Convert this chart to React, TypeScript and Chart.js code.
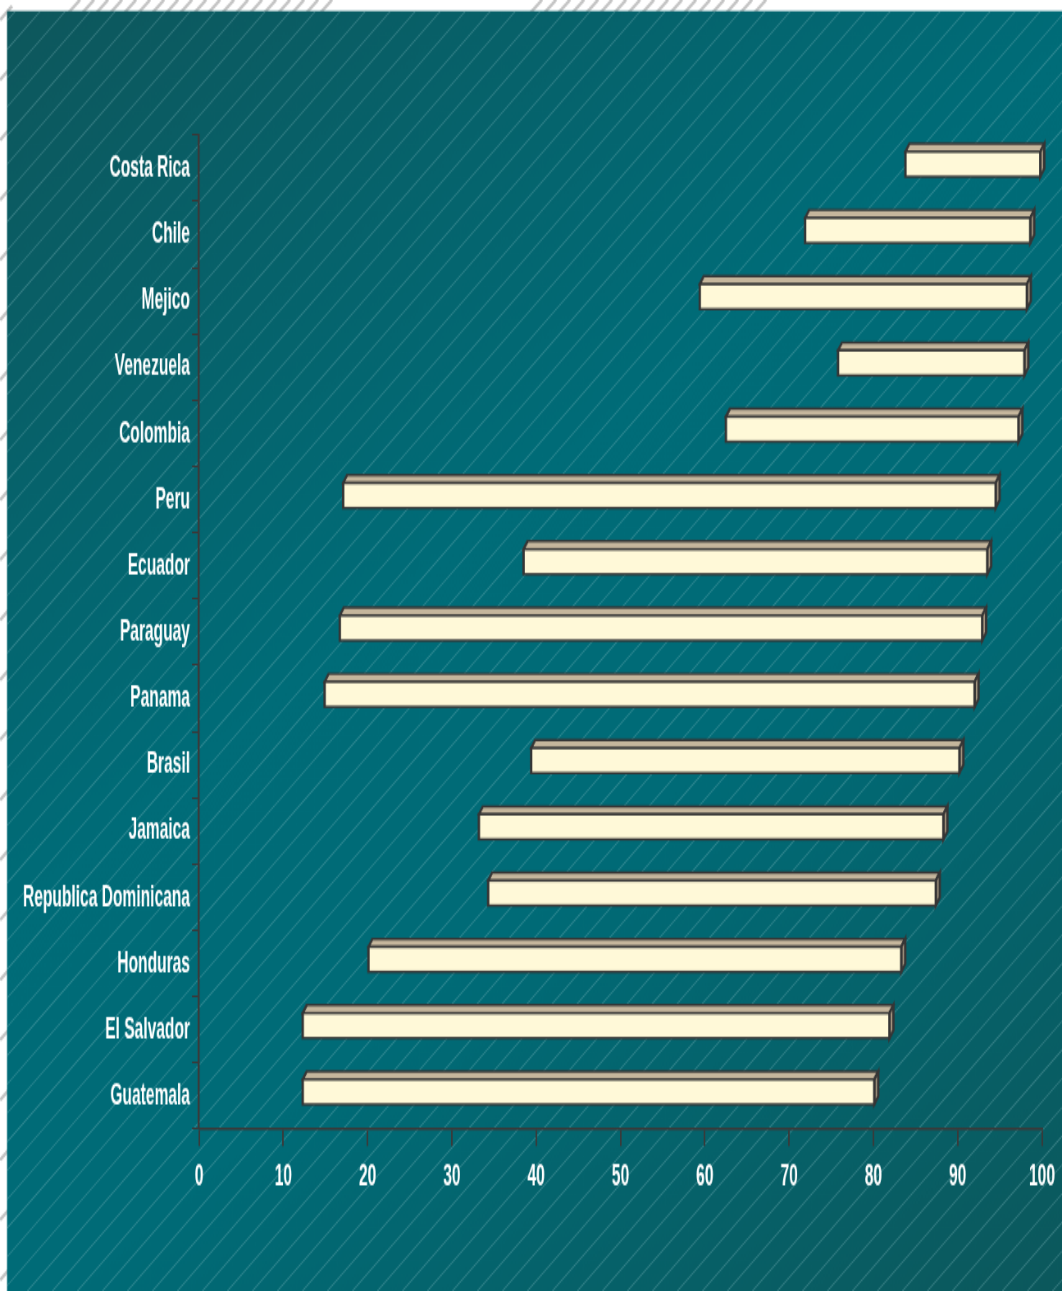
import React, { useEffect, useRef } from 'react';
import { Chart, registerables } from 'chart.js';

Chart.register(...registerables);

// ---- data ----
const categories = [
  'Costa Rica', 'Chile', 'Mejico', 'Venezuela', 'Colombia', 'Peru', 'Ecuador', 'Paraguay',
  'Panama', 'Brasil', 'Jamaica', 'Republica Dominicana', 'Honduras', 'El Salvador', 'Guatemala',
];
const startValues = [83.8, 71.9, 59.4, 75.8, 62.5, 17.1, 38.5, 16.7, 14.9, 39.4, 33.2, 34.3, 20.1, 12.3, 12.3];
const endValues = [99.8, 98.6, 98.2, 97.9, 97.2, 94.5, 93.5, 92.9, 92.0, 90.2, 88.3, 87.4, 83.3, 81.9, 80.1];
const xTickValues = [0, 10, 20, 30, 40, 50, 60, 70, 80, 90, 100];

// ---- geometry: display is 1062x1291, the canvas is drawn narrower/taller and stretched by CSS ----
const W = 1062;
const DH = 1291;
const WL = 1295;
const H = 782;
const KX = W / WL;
const KY = DH / H;

const FONT_FAMILY = '"Liberation Sans", Arial, sans-serif';

const backgroundPlugin = {
  id: 'bgPanel',
  beforeDraw(chart: any) {
    const ctx = chart.ctx as CanvasRenderingContext2D;
    ctx.save();
    ctx.scale(1 / KX, 1 / KY);
    ctx.fillStyle = '#ffffff';
    ctx.fillRect(0, 0, W, DH);
    // faint grey decoration in the outer margin
    ctx.strokeStyle = 'rgba(190,190,190,0.9)';
    ctx.lineWidth = 3;
    ctx.beginPath();
    for (let c = 80; c < 780; c += 14) {
      if (c > 340 && c < 540) continue;
      ctx.moveTo(c, 0); ctx.lineTo(c - 20, 22);
    }
    for (let y = 20; y < DH; y += 60) {
      ctx.moveTo(0, y); ctx.lineTo(12, y - 14);
    }
    ctx.stroke();

    const px = 7, py = 11;
    const g = ctx.createLinearGradient(px, py, W, DH);
    g.addColorStop(0, '#0e575c');
    g.addColorStop(0.42, '#006c78');
    g.addColorStop(0.62, '#006b77');
    g.addColorStop(1, '#0c585c');
    ctx.fillStyle = g;
    ctx.fillRect(px, py, W - px, DH - py);

    ctx.beginPath();
    ctx.rect(px, py, W - px, DH - py);
    ctx.clip();
    ctx.strokeStyle = 'rgba(150,200,205,0.38)';
    ctx.lineWidth = 0.9;
    const slope = 1.15;
    const run = DH / slope;
    ctx.beginPath();
    for (let c = 0; c < W + run + 30; c += 25) {
      ctx.moveTo(c, 0);
      ctx.lineTo(c - run, DH);
    }
    ctx.stroke();
    ctx.restore();
  },
};

const bars3dPlugin = {
  id: 'bars3d',
  afterDatasetsDraw(chart: any) {
    const ctx = chart.ctx as CanvasRenderingContext2D;
    const meta = chart.getDatasetMeta(0);
    ctx.save();
    ctx.scale(1 / KX, 1 / KY);
    ctx.lineJoin = 'miter';
    ctx.lineWidth = 2.4;
    ctx.strokeStyle = '#363636';
    const dx = 4;
    const dy = 8;
    const shift = -4;
    meta.data.forEach((el: any) => {
      const p = el.getProps(['x', 'y', 'base', 'height'], true);
      const left = Math.min(p.x, p.base) * KX;
      const right = Math.max(p.x, p.base) * KX;
      const hD = p.height * KY;
      const yc = p.y * KY + shift;
      const top = yc - hD / 2;
      const bottom = yc + hD / 2;
      // top face
      ctx.beginPath();
      ctx.moveTo(left, top);
      ctx.lineTo(left + dx, top - dy);
      ctx.lineTo(right + dx, top - dy);
      ctx.lineTo(right, top);
      ctx.closePath();
      ctx.fillStyle = '#c5b69c';
      ctx.fill();
      ctx.stroke();
      // side face
      ctx.beginPath();
      ctx.moveTo(right, top);
      ctx.lineTo(right + dx, top - dy);
      ctx.lineTo(right + dx, bottom - dy);
      ctx.lineTo(right, bottom);
      ctx.closePath();
      ctx.fillStyle = '#a69680';
      ctx.fill();
      ctx.stroke();
      // front face
      ctx.fillStyle = '#fff9d8';
      ctx.fillRect(left, top, right - left, hD);
      ctx.strokeRect(left, top, right - left, hD);
    });
    ctx.restore();
  },
};

export default function App() {
  const canvasRef = useRef<HTMLCanvasElement | null>(null);

  useEffect(() => {
    document.body.style.margin = '0';
    const canvas = canvasRef.current;
    if (!canvas) return;
    const chartTop = 135 / KY;
    const chartBottom = 1129 / KY;
    const chartLeft = 199 / KX;
    const chartRight = 1042 / KX;
    const chart = new Chart(canvas, {
      type: 'bar',
      data: {
        labels: categories,
        datasets: [
          {
            data: categories.map((_, i) => [startValues[i], endValues[i]]) as any,
            backgroundColor: 'rgba(0,0,0,0)',
            borderWidth: 0,
            barPercentage: 25 / 66.27,
            categoryPercentage: 1,
          },
        ],
      },
      options: {
        indexAxis: 'y',
        responsive: false,
        devicePixelRatio: 1,
        animation: false,
        events: [],
        layout: { padding: { top: chartTop, right: WL - chartRight, left: 0, bottom: 0 } },
        plugins: { legend: { display: false }, tooltip: { enabled: false }, title: { display: false } },
        scales: {
          x: {
            type: 'linear',
            position: 'bottom',
            min: 0,
            max: 100,
            afterBuildTicks: (s: any) => {
              s.ticks = xTickValues.map((v) => ({ value: v }));
            },
            afterFit: (s: any) => {
              s.height = H - chartBottom;
            },
            ticks: {
              color: '#ffffff',
              font: { family: FONT_FAMILY, weight: 'bold', size: 19 },
              padding: 7.6,
              maxRotation: 0,
              autoSkip: false,
            },
            grid: {
              drawOnChartArea: false,
              drawTicks: true,
              tickLength: 17 / KY,
              color: '#3a3a3a',
              lineWidth: 1.6 / KX,
            },
            border: { display: true, color: '#3a3a3a', width: 2.4 / KY },
          },
          y: {
            type: 'category',
            offset: true,
            afterFit: (s: any) => {
              s.width = chartLeft;
            },
            ticks: {
              color: '#ffffff',
              font: { family: FONT_FAMILY, weight: 'bold', size: 19 },
              padding: 2 / KX,
              autoSkip: false,
            },
            grid: {
              offset: true,
              drawOnChartArea: false,
              drawTicks: true,
              tickLength: 7 / KX,
              color: '#3d3636',
              lineWidth: 1.6 / KY,
            },
            border: { display: true, color: '#3a3a3a', width: 2 / KX },
          },
        },
      },
      plugins: [backgroundPlugin, bars3dPlugin],
    } as any);
    return () => chart.destroy();
  }, []);

  return (
    <div style={{ position: 'absolute', left: 0, top: 0, width: W, height: DH, overflow: 'hidden', background: '#fff' }}>
      <canvas
        ref={canvasRef}
        width={WL}
        height={H}
        style={{ display: 'block', width: `${W}px`, height: `${DH}px` }}
      />
    </div>
  );
}
